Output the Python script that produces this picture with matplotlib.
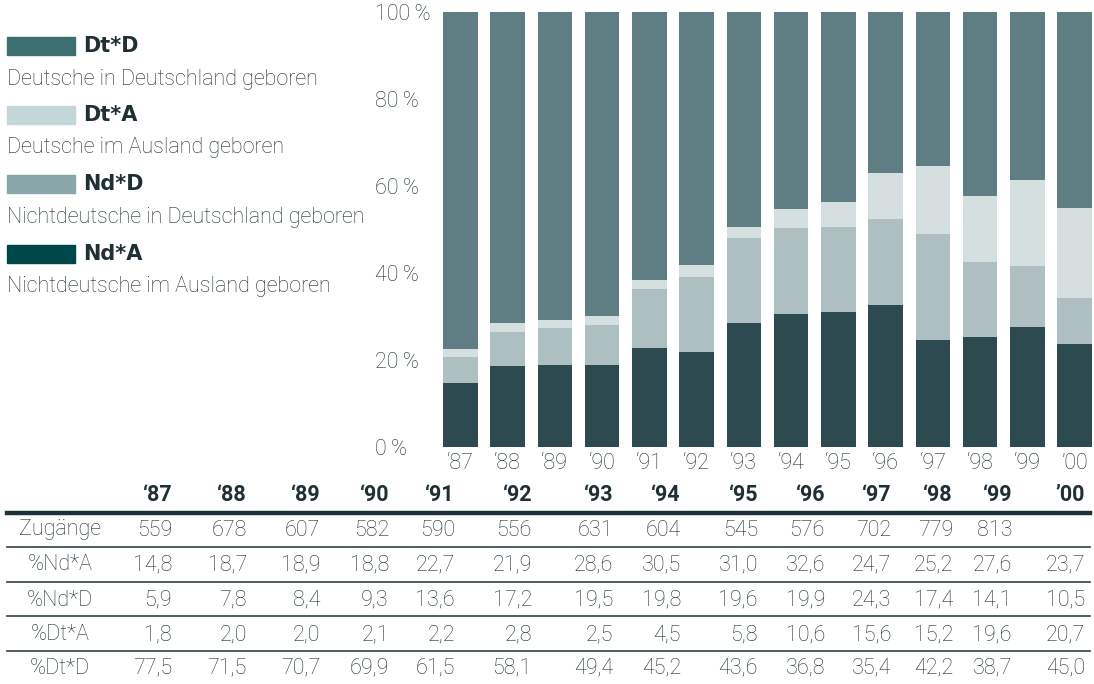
import matplotlib
matplotlib.use("Agg")
import matplotlib.pyplot as plt
import numpy as np

plt.rcParams['font.family'] = ['Roboto', 'DejaVu Sans']

years = ['\u201887', '\u201888', '\u201889', '\u201890', '\u201891', '\u201892', '\u201893',
         '\u201894', '\u201895', '\u201896', '\u201897', '\u201898', '\u201899', '\u201900']
zugaenge = ['559', '678', '607', '582', '590', '556', '631', '604', '545', '576', '702', '779', '813', '']
nd_a = [14.8, 18.7, 18.9, 18.8, 22.7, 21.9, 28.6, 30.5, 31.0, 32.6, 24.7, 25.2, 27.6, 23.7]
nd_d = [5.9, 7.8, 8.4, 9.3, 13.6, 17.2, 19.5, 19.8, 19.6, 19.9, 24.3, 17.4, 14.1, 10.5]
dt_a = [1.8, 2.0, 2.0, 2.1, 2.2, 2.8, 2.5, 4.5, 5.8, 10.6, 15.6, 15.2, 19.6, 20.7]
dt_d = [77.5, 71.5, 70.7, 69.9, 61.5, 58.1, 49.4, 45.2, 43.6, 36.8, 35.4, 42.2, 38.7, 45.0]

legend_codes = ['Dt*D', 'Dt*A', 'Nd*D', 'Nd*A']
legend_desc = ['Deutsche in Deutschland geboren', 'Deutsche im Ausland geboren',
               'Nichtdeutsche in Deutschland geboren', 'Nichtdeutsche im Ausland geboren']
row_labels = ['Zug\u00e4nge', '%Nd*A', '%Nd*D', '%Dt*A', '%Dt*D']

bar_colors = {'Nd*A': '#2c4a4f', 'Nd*D': '#adbfc1', 'Dt*A': '#d5dfe0', 'Dt*D': '#5f7e84'}
patch_colors = {'Dt*D': '#3d6e70', 'Dt*A': '#c3d6d8', 'Nd*D': '#89a7a9', 'Nd*A': '#00474a'}
text_col = '#1f2f33'
fs = 15.5

W, H = 1094, 684
fig = plt.figure(figsize=(W / 100, H / 100), dpi=100)

def fx(px):
    return px / W

def fy(py):
    return 1 - py / H

# stacked bars
ax = fig.add_axes([fx(443), fy(447), fx(1092 - 443), (447 - 12) / H])
x = np.arange(len(years))
bw = 0.73
bottom = np.zeros(len(years))
for key, vals in [('Nd*A', nd_a), ('Nd*D', nd_d), ('Dt*A', dt_a), ('Dt*D', dt_d)]:
    ax.bar(x, vals, bw, bottom=bottom, color=bar_colors[key], linewidth=0)
    bottom += np.array(vals)
ax.set_xlim(-bw / 2, len(years) - 1 + bw / 2)
ax.set_ylim(0, 100)
for s in ax.spines.values():
    s.set_visible(False)
ax.set_xticks(x)
ax.set_xticklabels(years, fontsize=fs, color=text_col, fontweight='light')
ax.set_yticks([0, 20, 40, 60, 80, 100])
ax.set_yticklabels(['%d\u2009%%' % v for v in [0, 20, 40, 60, 80, 100]],
                   fontsize=fs, color=text_col, ha='left', fontweight='light')
ax.tick_params(axis='both', length=0)
ax.tick_params(axis='y', pad=49)
ax.tick_params(axis='x', pad=4)

# legend
leg_y = [46, 115, 184, 254]
for code, desc, yy in zip(legend_codes, legend_desc, leg_y):
    fig.patches.append(plt.Rectangle((fx(7), fy(yy + 9)), fx(68), 18 / H,
                                     transform=fig.transFigure, color=patch_colors[code]))
    fig.text(fx(83), fy(yy), code, fontsize=15, fontweight='bold', color=text_col,
             va='center', ha='left', family=['DejaVu Sans'])
    fig.text(fx(7), fy(yy + 33), desc, fontsize=fs, color=text_col, va='center', ha='left',
             fontweight='light')

# table
col_right = [172, 247, 320, 389, 455, 532, 613, 681, 758, 825, 891, 953, 1012, 1085]
row_y = [530, 565, 600, 635, 668]
for cx, yr in zip(col_right, years):
    fig.text(fx(cx), fy(495), yr, fontsize=fs, fontweight='bold', color=text_col,
             ha='right', va='center')

fmt = lambda v: ('%.1f' % v).replace('.', ',')
rows = [zugaenge, [fmt(v) for v in nd_a], [fmt(v) for v in nd_d],
        [fmt(v) for v in dt_a], [fmt(v) for v in dt_d]]
for lab, vals, yy in zip(row_labels, rows, row_y):
    fig.text(fx(60), fy(yy), lab, fontsize=fs, color=text_col, ha='center', va='center',
             fontweight='light')
    for cx, v in zip(col_right, vals):
        fig.text(fx(cx), fy(yy), v, fontsize=fs, color=text_col, ha='right', va='center',
                 fontweight='light')

fig.add_artist(plt.Line2D([fx(7), fx(1090)], [fy(513), fy(513)], color='#1d3236', linewidth=3.2))
for yy in [547, 582, 616, 651]:
    fig.add_artist(plt.Line2D([fx(7), fx(1090)], [fy(yy), fy(yy)], color='#2f4245', linewidth=1.2))

fig.savefig('out.png', dpi=100)
